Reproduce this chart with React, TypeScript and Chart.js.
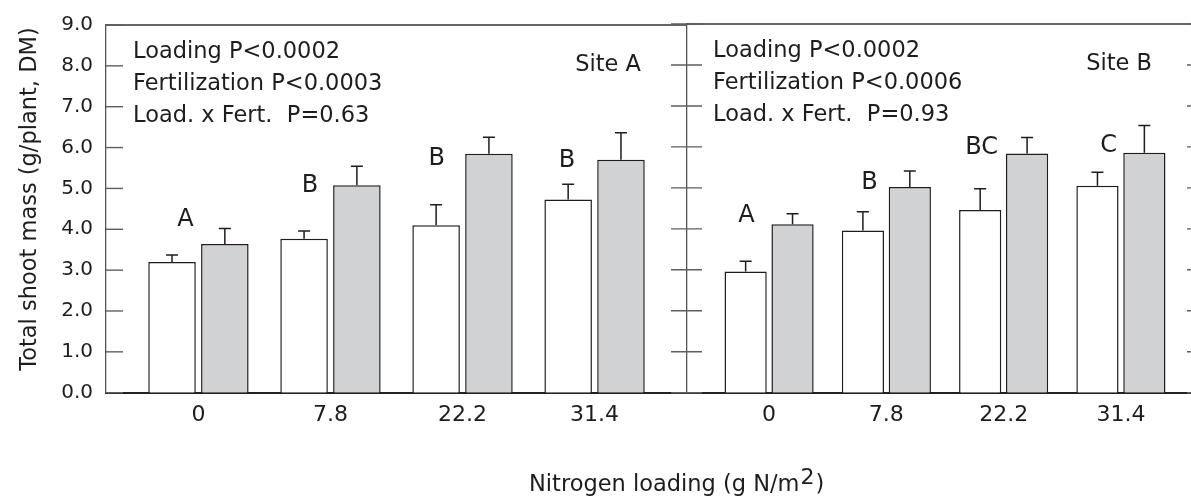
import React, { useEffect, useRef } from 'react';
import { Chart, registerables } from 'chart.js';

Chart.register(...registerables);

// ---------- data ----------
const categories = ['0', '7.8', '22.2', '31.4'];

const siteAUnfert = [3.2, 3.77, 4.1, 4.73];
const siteAUnfertSE = [0.17, 0.19, 0.5, 0.37];
const siteAFert = [3.64, 5.08, 5.85, 5.7];
const siteAFertSE = [0.38, 0.46, 0.4, 0.66];

const siteBUnfert = [2.96, 3.96, 4.46, 5.05];
const siteBUnfertSE = [0.25, 0.46, 0.52, 0.33];
const siteBFert = [4.11, 5.02, 5.84, 5.86];
const siteBFertSE = [0.26, 0.39, 0.39, 0.66];

const siteALetters = ['A', 'B', 'B', 'B'];
const siteBLetters = ['A', 'B', 'BC', 'C'];

const siteAStats = ['Loading P<0.0002', 'Fertilization P<0.0003', 'Load. x Fert.  P=0.63'];
const siteBStats = ['Loading P<0.0002', 'Fertilization P<0.0006', 'Load. x Fert.  P=0.93'];

const yMin = 0;
const yMax = 9;
const yStep = 1;

// ---------- layout (not data) ----------
const W = 1191;
const H = 497;
const PLOT_TOP = 24;
const PLOT_BOTTOM = 392.7;
const A_LEFT = 106;
const MID = 687;
const B_RIGHT = 1203;
const B_CANVAS_W = 1240;
const X_MIN = -0.7;
const X_MAX = 3.7;

const letterPosA = [
  { dx: -0.099, y: 4.07 },
  { dx: -0.155, y: 4.92 },
  { dx: -0.195, y: 5.58 },
  { dx: -0.209, y: 5.53 },
];
const letterPosB = [
  { dx: -0.194, y: 4.17 },
  { dx: -0.144, y: 4.97 },
  { dx: -0.187, y: 5.82 },
  { dx: -0.105, y: 5.88 },
];

const FAMILY = '"DejaVu Sans", "Liberation Sans", sans-serif';
const INK = '#1f1c1d';
const GRAY_FILL = '#d1d2d4';

type PanelCfg = {
  letters: string[];
  letterPos: { dx: number; y: number }[];
  stats: string[];
  site: string;
  siteRightInset: number;
  textInset: number;
  ses: number[][];
  tickMode: 'inner' | 'both';
  drawRightAxis: boolean;
  drawGlobalTitles: boolean;
};

function makeOverlay(cfg: PanelCfg) {
  return {
    id: 'overlay',
    afterDatasetsDraw(chart: any) {
      const ctx = chart.ctx;
      const y = chart.scales.y;
      ctx.save();
      ctx.strokeStyle = INK;
      ctx.lineWidth = 1.5;
      chart.data.datasets.forEach((ds: any, di: number) => {
        const meta = chart.getDatasetMeta(di);
        meta.data.forEach((el: any, i: number) => {
          const v = ds.data[i].y;
          const top = y.getPixelForValue(v + cfg.ses[di][i]);
          ctx.beginPath();
          ctx.moveTo(el.x, el.y);
          ctx.lineTo(el.x, top);
          ctx.moveTo(el.x - 6, top);
          ctx.lineTo(el.x + 6, top);
          ctx.stroke();
        });
      });
      ctx.restore();
    },
    afterDraw(chart: any) {
      const ctx = chart.ctx;
      const a = chart.chartArea;
      const x = chart.scales.x;
      const y = chart.scales.y;
      ctx.save();
      // top frame line
      ctx.strokeStyle = '#333';
      ctx.lineWidth = 1.3;
      ctx.beginPath();
      ctx.moveTo(a.left, a.top);
      ctx.lineTo(a.right, a.top);
      ctx.stroke();
      // y tick marks
      ctx.strokeStyle = '#5f5f5f';
      ctx.lineWidth = 1.4;
      y.ticks.forEach((t: any) => {
        const py = y.getPixelForValue(t.value);
        ctx.beginPath();
        if (cfg.tickMode === 'inner') {
          ctx.moveTo(a.left, py);
          ctx.lineTo(a.left + 17, py);
        } else {
          ctx.moveTo(a.left - 16, py);
          ctx.lineTo(a.left + 15, py);
        }
        if (cfg.drawRightAxis) {
          ctx.moveTo(a.right - 16, py);
          ctx.lineTo(a.right, py);
        }
        ctx.stroke();
      });
      if (cfg.drawRightAxis) {
        ctx.strokeStyle = '#555';
        ctx.beginPath();
        ctx.moveTo(a.right, a.top);
        ctx.lineTo(a.right, a.bottom);
        ctx.stroke();
      }
      // statistics text
      ctx.fillStyle = INK;
      ctx.font = `22.5px ${FAMILY}`;
      ctx.textAlign = 'left';
      ctx.textBaseline = 'alphabetic';
      cfg.stats.forEach((s, i) => {
        ctx.fillText(s, a.left + cfg.textInset, a.top + 33.3 + i * 31.7);
      });
      ctx.textAlign = 'right';
      ctx.fillText(cfg.site, a.right - cfg.siteRightInset, a.top + 46);
      // significance letters
      ctx.font = `24px ${FAMILY}`;
      ctx.textAlign = 'center';
      cfg.letters.forEach((l, i) => {
        const p = cfg.letterPos[i];
        ctx.fillText(l, x.getPixelForValue(i + p.dx), y.getPixelForValue(p.y));
      });
      if (cfg.drawGlobalTitles) {
        // y-axis title
        ctx.save();
        ctx.translate(35.5, 199);
        ctx.rotate(-Math.PI / 2);
        ctx.font = `22.5px ${FAMILY}`;
        ctx.textAlign = 'center';
        ctx.fillText('Total shoot mass (g/plant, DM)', 0, 0);
        ctx.restore();
        // x-axis title with superscript
        ctx.font = `22.5px ${FAMILY}`;
        ctx.textAlign = 'left';
        const main = 'Nitrogen loading (g N/m';
        const x0 = 529;
        const base = 491;
        ctx.fillText(main, x0, base);
        let cx = x0 + ctx.measureText(main).width + 1;
        ctx.font = `22px ${FAMILY}`;
        ctx.fillText('2', cx, base - 7);
        cx += ctx.measureText('2').width + 1;
        ctx.font = `22.5px ${FAMILY}`;
        ctx.fillText(')', cx, base);
      }
      ctx.restore();
    },
  };
}

function xScale() {
  return {
    type: 'linear' as const,
    min: X_MIN,
    max: X_MAX,
    offset: false,
    bounds: 'data' as const,
    grid: { display: false, drawTicks: false },
    border: { display: true, color: '#222', width: 2 },
    ticks: {
      autoSkip: false,
      maxRotation: 0,
      padding: 9,
      color: INK,
      font: { family: FAMILY, size: 22 },
      callback: (v: any) => categories[Math.round(Number(v))] ?? '',
    },
    afterBuildTicks: (s: any) => {
      s.ticks = categories.map((_, i) => ({ value: i }));
    },
    afterFit: (s: any) => {
      s.height = H - PLOT_BOTTOM;
    },
  };
}

function datasets(unf: number[], fert: number[]) {
  return [
    {
      label: 'Unfertilized',
      data: unf.map((v, i) => ({ x: i, y: v })),
      backgroundColor: '#ffffff',
      borderColor: INK,
      borderWidth: 1.5,
    },
    {
      label: 'Fertilized',
      data: fert.map((v, i) => ({ x: i, y: v })),
      backgroundColor: GRAY_FILL,
      borderColor: INK,
      borderWidth: 1.5,
    },
  ];
}

export default function App() {
  const refA = useRef<HTMLCanvasElement>(null);
  const refB = useRef<HTMLCanvasElement>(null);

  useEffect(() => {
    const chartA = new Chart(refA.current as HTMLCanvasElement, {
      type: 'bar',
      data: { datasets: datasets(siteAUnfert, siteAFert) as any },
      options: {
        responsive: false,
        animation: false,
        devicePixelRatio: 1,
        layout: { padding: { top: PLOT_TOP, right: W - MID, left: 0, bottom: 0 } },
        plugins: { legend: { display: false }, tooltip: { enabled: false } },
        scales: {
          x: xScale() as any,
          y: {
            min: yMin,
            max: yMax,
            grid: { display: false, drawTicks: false },
            border: { display: true, color: '#555', width: 1.3 },
            ticks: {
              stepSize: yStep,
              padding: 13,
              color: INK,
              font: { family: FAMILY, size: 20 },
              callback: (v: any) => Number(v).toFixed(1),
            },
            afterFit: (s: any) => {
              s.width = A_LEFT;
            },
          } as any,
        },
      },
      plugins: [
        makeOverlay({
          letters: siteALetters,
          letterPos: letterPosA,
          stats: siteAStats,
          site: 'Site A',
          siteRightInset: 46,
          textInset: 27,
          ses: [siteAUnfertSE, siteAFertSE],
          tickMode: 'inner',
          drawRightAxis: false,
          drawGlobalTitles: true,
        }),
      ],
    });

    const chartB = new Chart(refB.current as HTMLCanvasElement, {
      type: 'bar',
      data: { datasets: datasets(siteBUnfert, siteBFert) as any },
      options: {
        responsive: false,
        animation: false,
        devicePixelRatio: 1,
        layout: { padding: { top: PLOT_TOP, right: B_CANVAS_W - B_RIGHT, left: 0, bottom: 0 } },
        plugins: { legend: { display: false }, tooltip: { enabled: false } },
        scales: {
          x: xScale() as any,
          y: {
            min: yMin,
            max: yMax,
            grid: { display: false, drawTicks: false },
            border: { display: true, color: '#555', width: 1.3 },
            ticks: { stepSize: yStep, display: false },
            afterFit: (s: any) => {
              s.width = MID;
            },
          } as any,
        },
      },
      plugins: [
        makeOverlay({
          letters: siteBLetters,
          letterPos: letterPosB,
          stats: siteBStats,
          site: 'Site B',
          siteRightInset: 51,
          textInset: 26,
          ses: [siteBUnfertSE, siteBFertSE],
          tickMode: 'both',
          drawRightAxis: true,
          drawGlobalTitles: false,
        }),
      ],
    });

    return () => {
      chartA.destroy();
      chartB.destroy();
    };
  }, []);

  return (
    <div
      style={{
        position: 'fixed',
        left: 0,
        top: 0,
        width: W,
        height: H,
        overflow: 'hidden',
        background: '#ffffff',
      }}
    >
      <canvas ref={refA} width={W} height={H} style={{ position: 'absolute', left: 0, top: 0 }} />
      <canvas
        ref={refB}
        width={B_CANVAS_W}
        height={H}
        style={{ position: 'absolute', left: 0, top: 0 }}
      />
    </div>
  );
}
